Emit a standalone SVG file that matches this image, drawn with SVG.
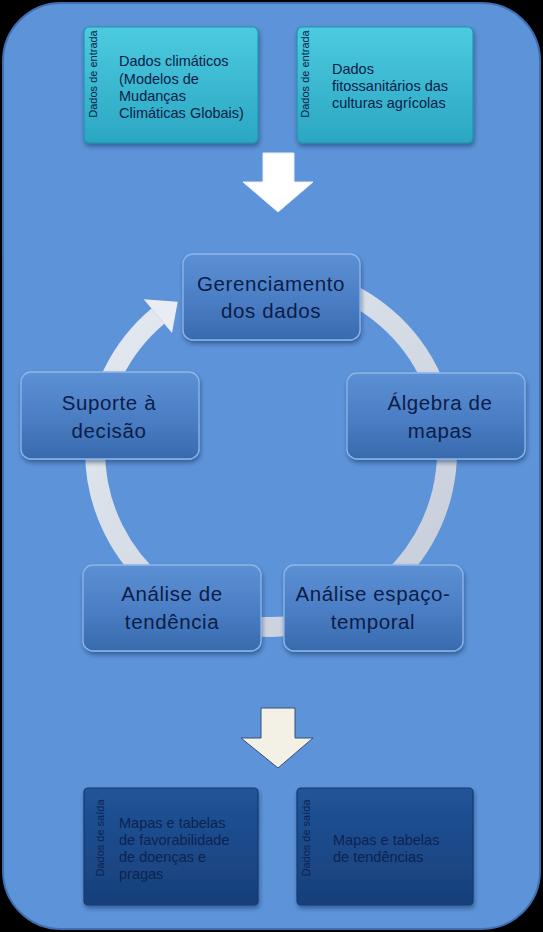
<svg xmlns="http://www.w3.org/2000/svg" width="543" height="932" viewBox="0 0 543 932">
<defs>
<linearGradient id="gIn" x1="0" y1="0" x2="0" y2="1"><stop offset="0" stop-color="#4ccbe0"/><stop offset="1" stop-color="#2ba6c2"/></linearGradient>
<linearGradient id="gOut" x1="0" y1="0" x2="0" y2="1"><stop offset="0" stop-color="#215498"/><stop offset="1" stop-color="#173f7a"/></linearGradient>
<linearGradient id="gNode" x1="0" y1="0" x2="0" y2="1"><stop offset="0" stop-color="#5c90d4"/><stop offset="0.5" stop-color="#4c7fc5"/><stop offset="1" stop-color="#386aae"/></linearGradient>
<linearGradient id="gRing" x1="0" y1="0" x2="1" y2="1"><stop offset="0" stop-color="#e6ebf2"/><stop offset="1" stop-color="#c4ccd8"/></linearGradient>
<filter id="sh" x="-10%" y="-10%" width="125%" height="130%"><feDropShadow dx="1" dy="3" stdDeviation="2" flood-color="#0a2050" flood-opacity="0.45"/></filter>
</defs>
<style>
.in{fill:url(#gIn);stroke:#2392ac;stroke-width:1.2;filter:url(#sh)}
.out{fill:url(#gOut);stroke:#143a70;stroke-width:1.2;filter:url(#sh)}
.node{fill:url(#gNode);stroke:#8db6ea;stroke-width:1.3;filter:url(#sh)}
.t{font-family:"Liberation Sans","Open Sans",sans-serif;fill:#0b1d48}
.nt{font-size:20.5px;letter-spacing:0.6px;text-anchor:middle}
.bt{font-size:14.5px}
.vt{font-size:11px;text-anchor:middle}
.ot{fill:#0d2350}
</style>
<rect width="543" height="932" fill="#000"/>
<rect x="3" y="3" width="537" height="926" rx="58" fill="#5d93d8" stroke="#3f6fb0" stroke-width="2"/>

<g id="in1">
<rect class="in" x="84" y="27" width="174" height="116" rx="5"/>
<text class="t vt" transform="translate(96.5 74) rotate(-90)">Dados de entrada</text>
<text class="t bt" x="119" y="66">Dados climáticos</text>
<text class="t bt" x="119" y="84">(Modelos de</text>
<text class="t bt" x="119" y="101">Mudanças</text>
<text class="t bt" x="119" y="118">Climáticas Globais)</text>
</g>
<g id="in2">
<rect class="in" x="297" y="27" width="176" height="116" rx="5"/>
<text class="t vt" transform="translate(308.5 74) rotate(-90)">Dados de entrada</text>
<text class="t bt" x="332" y="74">Dados</text>
<text class="t bt" x="332" y="91">fitossanitários das</text>
<text class="t bt" x="332" y="108">culturas agrícolas</text>
</g>

<g id="arrow1">
<polygon points="263,153 294,153 294,182 313,182 278,212 243,182 263,182" fill="#ffffff" stroke="#e8eef6" stroke-width="1"/>
</g>

<g id="connectors">
<path d="M 331.2 285.6 A 176 176 0 1 1 157.9 316.2" fill="none" stroke="url(#gRing)" stroke-width="20"/>
<polygon points="143.7,299.3 177.7,301.8 172.0,333.0" fill="#e9edf3"/>
</g>

<g id="n1">
<rect class="node" x="183" y="254" width="177" height="86" rx="10"/>
<text class="t nt" x="271" y="291">Gerenciamento</text>
<text class="t nt" x="271" y="318">dos dados</text>
</g>
<g id="n2">
<rect class="node" x="347" y="373" width="178" height="86" rx="10"/>
<text class="t nt" x="440" y="410">Álgebra de</text>
<text class="t nt" x="440" y="438">mapas</text>
</g>
<g id="n3">
<rect class="node" x="284" y="565" width="179" height="86" rx="10"/>
<text class="t nt" x="373" y="601">Análise espaço-</text>
<text class="t nt" x="373" y="629">temporal</text>
</g>
<g id="n4">
<rect class="node" x="83" y="565" width="178" height="86" rx="10"/>
<text class="t nt" x="172" y="601">Análise de</text>
<text class="t nt" x="172" y="629">tendência</text>
</g>
<g id="n5">
<rect class="node" x="21" y="372" width="178" height="87" rx="10"/>
<text class="t nt" x="109" y="410">Suporte à</text>
<text class="t nt" x="109" y="438">decisão</text>
</g>

<g id="arrow2">
<polygon points="261,708 295,708 295,738 313,738 278,768 241,738 261,738" fill="#f3f1e6" stroke="#34507a" stroke-width="1"/>
</g>

<g id="out1">
<rect class="out" x="84" y="788" width="174" height="117" rx="4"/>
<text class="t vt ot" transform="translate(104 838) rotate(-90)">Dados de saída</text>
<text class="t bt ot" x="119" y="828">Mapas e tabelas</text>
<text class="t bt ot" x="119" y="845">de favorabilidade</text>
<text class="t bt ot" x="119" y="862">de doenças e</text>
<text class="t bt ot" x="119" y="879">pragas</text>
</g>
<g id="out2">
<rect class="out" x="297" y="788" width="176" height="117" rx="4"/>
<text class="t vt ot" transform="translate(310 838) rotate(-90)">Dados de saída</text>
<text class="t bt ot" x="333" y="845">Mapas e tabelas</text>
<text class="t bt ot" x="333" y="862">de tendências</text>
</g>
</svg>
